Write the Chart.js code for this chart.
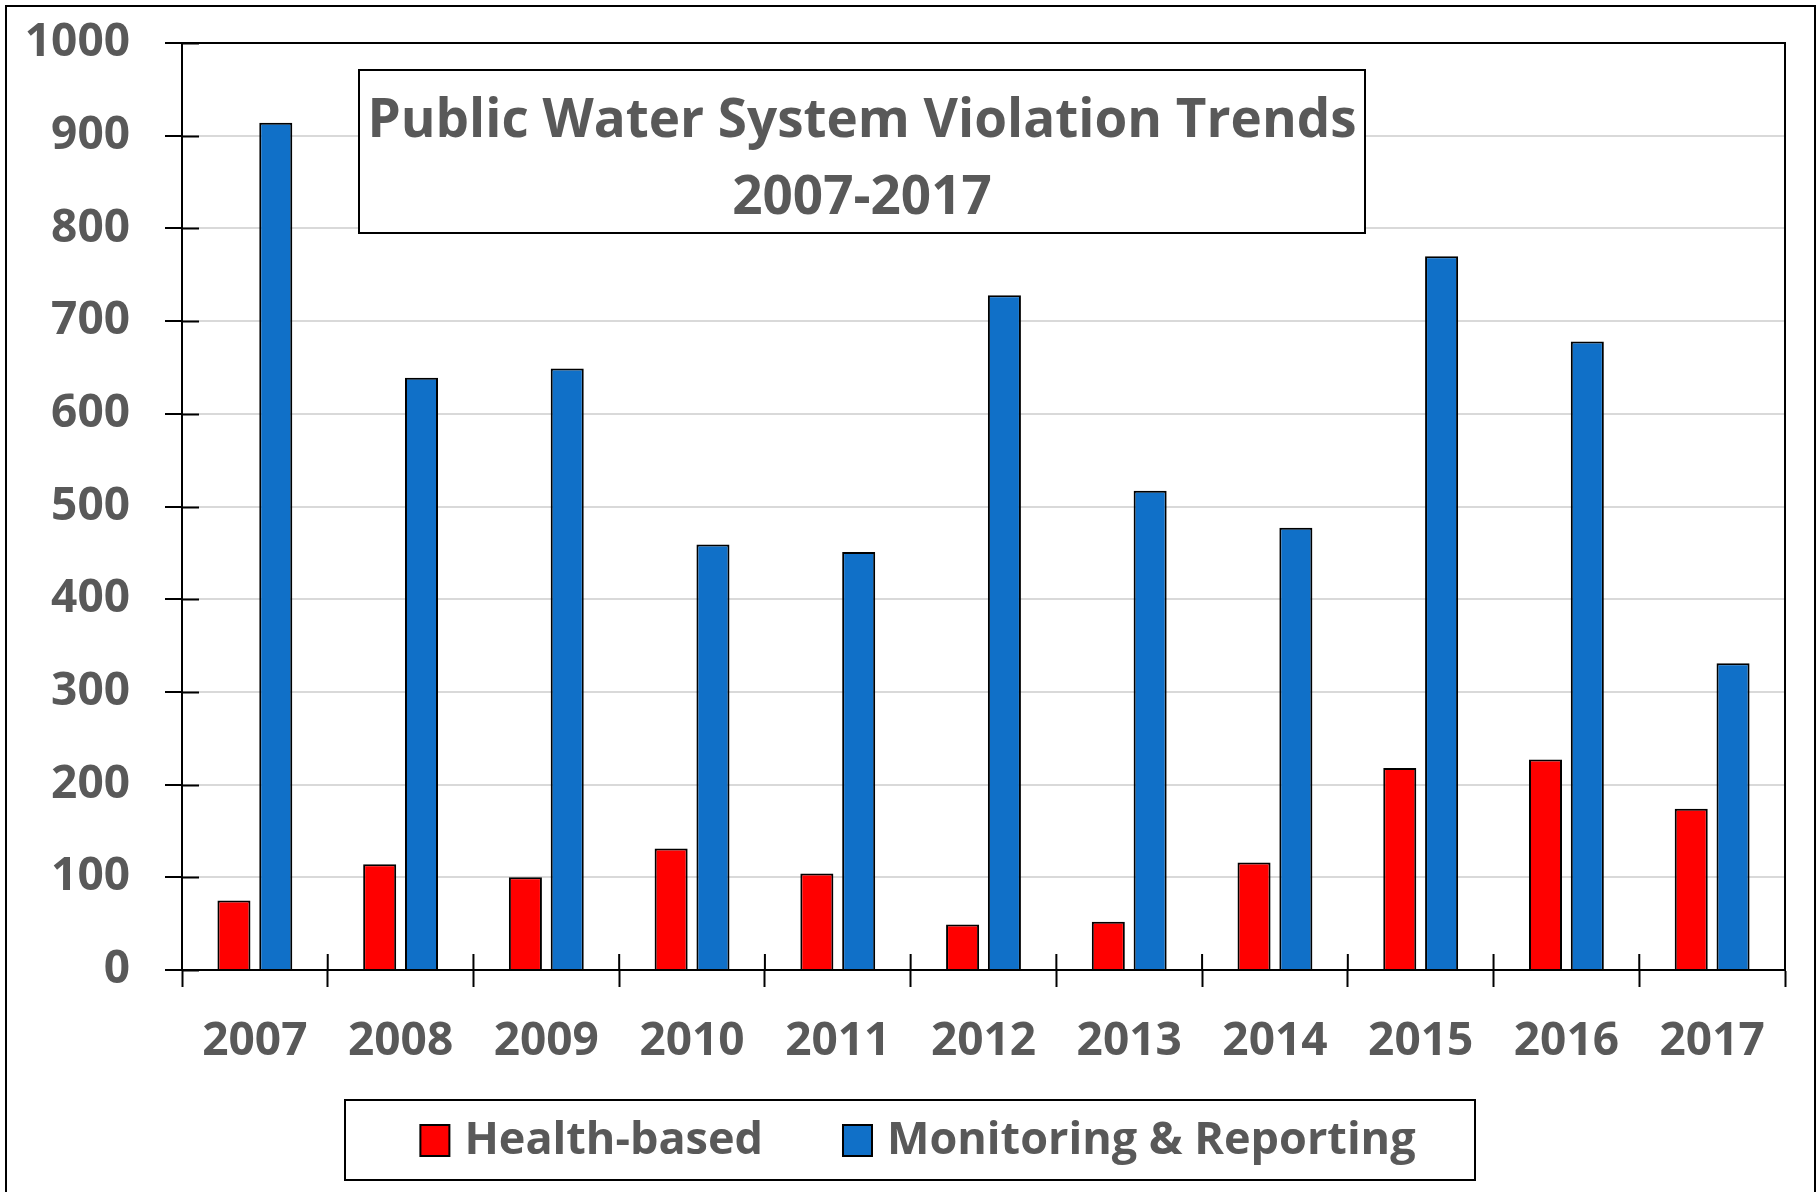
<!DOCTYPE html>
<html>
<head>
<meta charset="utf-8">
<script src="https://cdn.jsdelivr.net/npm/chart.js@4"></script>
<style>
  html, body { margin: 0; padding: 0; background: #fff; }
  canvas { display: block; }
</style>
</head>
<body>
<canvas id="violationChart" width="1817" height="1192"></canvas>
<script>
// Data
const years = ["2007", "2008", "2009", "2010", "2011", "2012", "2013", "2014", "2015", "2016", "2017"];
const healthBased = [75, 114, 100, 131, 104, 49, 52, 116, 218, 227, 174];
const monitoringReporting = [914, 639, 649, 459, 451, 728, 517, 477, 770, 678, 331];
const titleLines = ["Public Water System Violation Trends", "2007-2017"];
const yMin = 0, yMax = 1000, yStep = 100;

const FONT = "'Open Sans', sans-serif";
const TEXT_GREY = "#595959";

// Frame, inner tick marks, title box and legend box
const decorations = {
    id: "decorations",
    beforeDraw(chart) {
        const c = chart.ctx;
        c.save();
        c.fillStyle = "#fff";
        c.fillRect(0, 0, chart.width, chart.height);
        c.restore();
    },
    afterDraw(chart) {
        const c = chart.ctx;
        const area = chart.chartArea;
        const xs = chart.scales.x;
        const ys = chart.scales.y;
        c.save();
        c.strokeStyle = "#000";
        c.lineWidth = 2;

        // box round the plot area
        c.strokeRect(area.left, area.top, area.right - area.left, area.bottom - area.top);

        // tick marks crossing into the plot
        c.beginPath();
        ys.ticks.forEach((t, i) => {
            const y = Math.round(ys.getPixelForTick(i)) + 0.5;
            c.moveTo(area.left, y);
            c.lineTo(area.left + 17, y);
        });
        for (let i = 0; i <= years.length; i++) {
            const x = xs.getPixelForValue(i - 0.5);
            c.moveTo(x, area.bottom);
            c.lineTo(x, area.bottom - 16);
        }
        c.stroke();

        // title box
        const tb = { x: 359, y: 70, w: 1006, h: 163 };
        c.fillStyle = "#fff";
        c.fillRect(tb.x, tb.y, tb.w, tb.h);
        c.strokeRect(tb.x, tb.y, tb.w, tb.h);
        c.fillStyle = TEXT_GREY;
        c.font = "bold 53px " + FONT;
        c.textAlign = "center";
        c.textBaseline = "middle";
        c.fillText(titleLines[0], tb.x + tb.w / 2, 122);
        c.fillText(titleLines[1], tb.x + tb.w / 2, 199);

        // legend box
        const lb = { x: 345, y: 1100, w: 1130, h: 80 };
        c.fillStyle = "#fff";
        c.fillRect(lb.x, lb.y, lb.w, lb.h);
        c.strokeRect(lb.x, lb.y, lb.w, lb.h);
        c.font = "bold 45px " + FONT;
        c.textAlign = "left";
        const sq = 29, gap = 15, itemGap = 80;
        const ds = chart.data.datasets;
        const widths = ds.map(d => c.measureText(d.label).width);
        const total = widths.reduce((s, w) => s + sq + gap + w, 0) + itemGap * (ds.length - 1);
        let x = lb.x + lb.w / 2 - total / 2 + 8;
        const cy = lb.y + lb.h / 2;
        ds.forEach((d, i) => {
            c.fillStyle = d.backgroundColor;
            c.fillRect(x, cy - 15, sq, 31);
            c.strokeRect(x, cy - 15, sq, 31);
            c.fillStyle = TEXT_GREY;
            c.fillText(d.label, x + sq + gap, cy + 1);
            x += sq + gap + widths[i] + itemGap;
        });

        // outer border
        c.strokeRect(6, 6, 1809, chart.height + 10);
        c.restore();
    }
};

const ctx = document.getElementById("violationChart").getContext("2d");
const chart = new Chart(ctx, {
    type: "bar",
    data: {
        labels: years,
        datasets: [
            {
                label: "Health-based",
                data: healthBased,
                backgroundColor: "#ff0000",
                borderColor: "#000",
                borderWidth: 2,
                categoryPercentage: 0.574,
                barPercentage: 0.79
            },
            {
                label: "Monitoring & Reporting",
                data: monitoringReporting,
                backgroundColor: "#1070c8",
                borderColor: "#000",
                borderWidth: 2,
                categoryPercentage: 0.574,
                barPercentage: 0.79
            }
        ]
    },
    options: {
        responsive: false,
        animation: false,
        layout: { padding: { top: 43, right: 32, left: 0, bottom: 0 } },
        plugins: {
            legend: { display: false },
            title: { display: false },
            tooltip: { enabled: false }
        },
        scales: {
            x: {
                afterFit: s => { s.height = 222; },
                border: { color: "#000", width: 2 },
                grid: {
                    offset: true,
                    drawOnChartArea: false,
                    drawTicks: true,
                    tickLength: 17,
                    tickColor: "#000",
                    tickWidth: 2
                },
                ticks: {
                    color: TEXT_GREY,
                    font: { family: FONT, size: 46, weight: "bold" },
                    padding: 27,
                    maxRotation: 0
                }
            },
            y: {
                min: yMin,
                max: yMax,
                afterFit: s => {
                    s.width = 182;
                    s.paddingTop = 0;
                    s.paddingBottom = 0;
                },
                border: { color: "#000", width: 2 },
                grid: {
                    color: "#d9d9d9",
                    lineWidth: 2,
                    drawTicks: true,
                    tickLength: 17,
                    tickColor: "#000",
                    tickWidth: 2
                },
                ticks: {
                    stepSize: yStep,
                    color: TEXT_GREY,
                    font: { family: FONT, size: 46, weight: "bold" },
                    padding: 35,
                    callback: v => String(v)
                }
            }
        }
    },
    plugins: [decorations]
});
</script>
</body>
</html>
